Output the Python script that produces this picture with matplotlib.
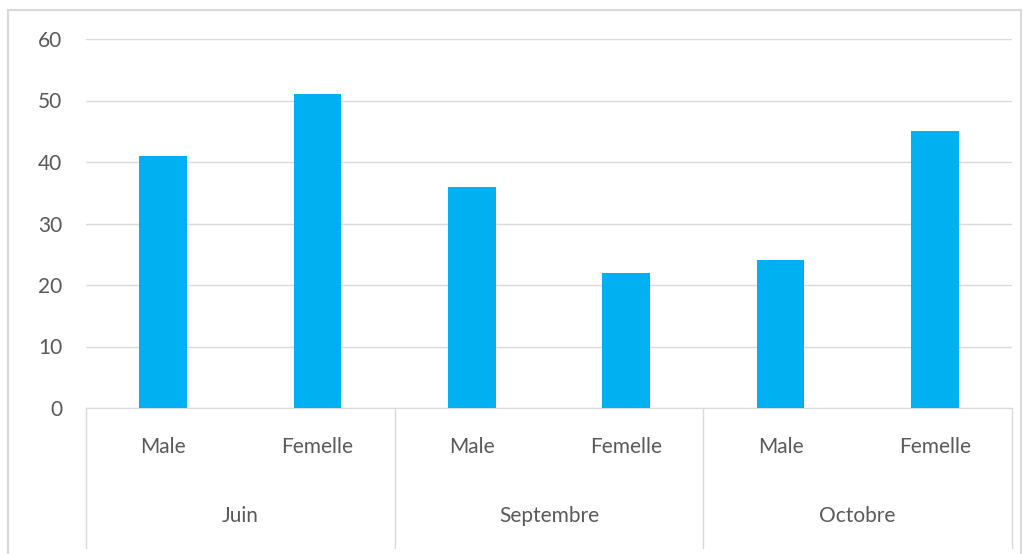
import matplotlib
matplotlib.use("Agg")
import matplotlib.pyplot as plt
import matplotlib.transforms as mtransforms
from matplotlib.patches import Rectangle
import numpy as np

MONTHS = ["Juin", "Septembre", "Octobre"]
SEXES = ["Male", "Femelle"]
VALUES = [41, 51, 36, 22, 24, 45]  # Juin M/F, Septembre M/F, Octobre M/F
YTICKS = [0, 10, 20, 30, 40, 50, 60]

BAR_COLOR = "#00b0f0"
TEXT_COLOR = "#595959"
LINE_COLOR = "#d9d9d9"
FS = 15

plt.rcParams["font.family"] = ["Lato", "DejaVu Sans"]

W, H = 1030, 554
fig = plt.figure(figsize=(W / 100, H / 100), dpi=100)
ax = fig.add_axes([86 / W, 1 - 408 / H, (1012 - 86) / W, (408 - 39) / H])

x = np.arange(len(VALUES)) + 0.5
ax.bar(x, VALUES, width=0.31, color=BAR_COLOR, zorder=3)

ax.set_xlim(0, len(VALUES))
ax.set_ylim(0, 60)
ax.set_yticks(YTICKS)
ax.tick_params(axis="y", length=0, pad=17, labelsize=FS, labelcolor=TEXT_COLOR)
ax.set_xticks([])
ax.grid(axis="y", color=LINE_COLOR, linewidth=1, zorder=0)
for s in ["top", "right", "left"]:
    ax.spines[s].set_visible(False)
ax.spines["bottom"].set_color(LINE_COLOR)

# multi-level category axis
trans = mtransforms.blended_transform_factory(ax.transData, ax.transAxes)
low = (408 - 548) / (408 - 39)
for xs in range(0, len(VALUES) + 1, 2):
    ax.plot([xs, xs], [0, low], color=LINE_COLOR, linewidth=1, transform=trans, clip_on=False)
for i, xi in enumerate(x):
    ax.text(xi, (408 - 447) / (408 - 39), SEXES[i % 2], transform=trans, ha="center", va="center",
            fontsize=FS, color=TEXT_COLOR)
for j, m in enumerate(MONTHS):
    ax.text(2 * j + 1, (408 - 516) / (408 - 39), m, transform=trans, ha="center", va="center",
            fontsize=FS, color=TEXT_COLOR)

# outer chart frame
fig.patches.append(Rectangle((8 / W, -0.05), (1021 - 8) / W, 1 - 10 / H + 0.05,
                             transform=fig.transFigure, fill=False, edgecolor=LINE_COLOR, linewidth=1.5))

fig.savefig("out.png", dpi=100)
